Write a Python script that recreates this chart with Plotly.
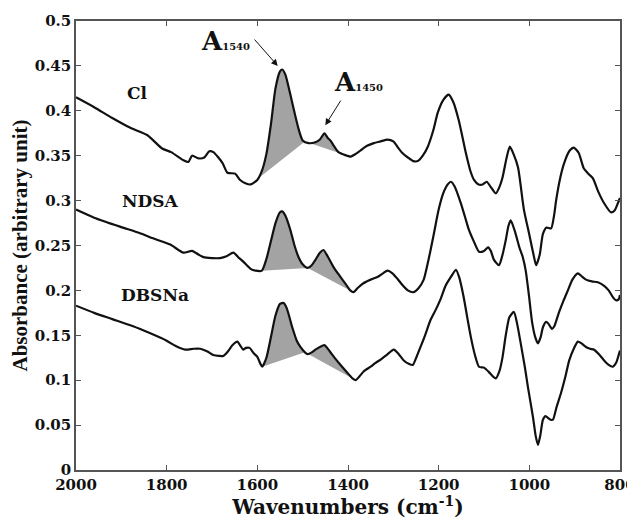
import numpy as np
import plotly.graph_objects as go

# ---------------- data ----------------
cl_x = [2000, 1960, 1920, 1880, 1843, 1810, 1790, 1763, 1752, 1744, 1730, 1717, 1706, 1697, 1677,
        1666, 1649, 1638, 1625, 1615, 1600, 1590, 1580, 1570, 1560, 1550, 1545, 1538, 1528, 1518,
        1508, 1500, 1487, 1472, 1462, 1452, 1445, 1439, 1430, 1421, 1408, 1394, 1383, 1372, 1358,
        1343, 1328, 1313, 1300, 1291, 1280, 1268, 1256, 1246, 1235, 1224, 1212, 1202, 1190, 1178,
        1168, 1156, 1148, 1140, 1130, 1122, 1112, 1103, 1094, 1085, 1074, 1066, 1059, 1050, 1043,
        1035, 1025, 1012, 1000, 990, 985, 977, 970, 962, 952, 945, 941, 932, 923, 912, 902, 891,
        880, 870, 860, 848, 835, 820, 812, 804, 800]
cl_y = [0.415, 0.404, 0.392, 0.381, 0.373, 0.358, 0.354, 0.345, 0.343, 0.350, 0.347, 0.348, 0.355, 0.354, 0.342,
        0.331, 0.330, 0.323, 0.319, 0.318, 0.323, 0.333, 0.352, 0.385, 0.425, 0.444, 0.446, 0.440, 0.420, 0.398,
        0.378, 0.367, 0.364, 0.365, 0.368, 0.375, 0.370, 0.367, 0.360, 0.354, 0.351, 0.349, 0.352, 0.356, 0.361,
        0.364, 0.366, 0.368, 0.366, 0.360, 0.353, 0.348, 0.344, 0.344, 0.350, 0.360, 0.378, 0.398, 0.412, 0.418,
        0.410, 0.390, 0.372, 0.353, 0.333, 0.323, 0.318, 0.318, 0.321, 0.315, 0.308, 0.315, 0.326, 0.348, 0.360,
        0.352, 0.337, 0.290, 0.262, 0.238, 0.228, 0.240, 0.263, 0.270, 0.269, 0.285, 0.300, 0.325, 0.342, 0.355, 0.359, 0.353,
        0.336, 0.330, 0.325, 0.310, 0.297, 0.287, 0.289, 0.298, 0.303]

ndsa_x = [2000, 1960, 1903, 1860, 1830, 1792, 1763, 1744, 1730, 1719, 1700, 1682, 1668, 1653, 1640,
          1631, 1615, 1604, 1590, 1580, 1570, 1560, 1550, 1545, 1538, 1527, 1518, 1509, 1500, 1489,
          1480, 1472, 1462, 1454, 1445, 1432, 1418, 1405, 1395, 1388, 1378, 1366, 1350, 1335, 1323,
          1313, 1302, 1291, 1280, 1268, 1255, 1245, 1233, 1222, 1211, 1200, 1190, 1180, 1173, 1165,
          1151, 1142, 1133, 1122, 1111, 1100, 1091, 1085, 1078, 1067, 1060, 1052, 1046, 1041, 1032,
          1022, 1015, 1008, 1001, 994, 987, 981, 975, 970, 963, 958, 950, 945, 935, 925, 915, 905,
          893, 885, 875, 862, 849, 835, 825, 815, 809, 803, 800]
ndsa_y = [0.290, 0.281, 0.271, 0.264, 0.258, 0.251, 0.242, 0.244, 0.240, 0.237, 0.236, 0.236, 0.238, 0.242, 0.236,
          0.232, 0.224, 0.222, 0.222, 0.235, 0.255, 0.275, 0.287, 0.288, 0.283, 0.267, 0.250, 0.237, 0.229, 0.225,
          0.228, 0.234, 0.242, 0.245, 0.238, 0.226, 0.216, 0.207, 0.200, 0.198, 0.203, 0.208, 0.212, 0.215, 0.219,
          0.222, 0.219, 0.213, 0.206, 0.200, 0.198, 0.202, 0.212, 0.235, 0.262, 0.290, 0.308, 0.318, 0.321, 0.316,
          0.297, 0.282, 0.267, 0.254, 0.243, 0.244, 0.248, 0.244, 0.234, 0.228, 0.238, 0.256, 0.272, 0.278, 0.266,
          0.248, 0.238, 0.222, 0.195, 0.165, 0.148, 0.141, 0.148, 0.159, 0.165, 0.163, 0.157, 0.160, 0.175, 0.188, 0.200, 0.212,
          0.219, 0.216, 0.212, 0.210, 0.209, 0.205, 0.200, 0.192, 0.189, 0.190, 0.195]

dbs_x = [2000, 1960, 1920, 1874, 1840, 1800, 1780, 1759, 1740, 1726, 1710, 1697, 1685, 1675, 1665,
         1655, 1644, 1637, 1631, 1625, 1617, 1608, 1600, 1593, 1589, 1580, 1570, 1560, 1550, 1542,
         1535, 1523, 1513, 1505, 1495, 1489, 1480, 1472, 1462, 1452, 1440, 1428, 1415, 1401, 1390,
         1383, 1375, 1365, 1350, 1340, 1328, 1315, 1299, 1288, 1277, 1265, 1257, 1248, 1240, 1230,
         1218, 1205, 1196, 1185, 1173, 1162, 1155, 1145, 1137, 1129, 1120, 1111, 1100, 1089, 1080,
         1074, 1066, 1059, 1052, 1044, 1034, 1027, 1019, 1010, 1003, 992, 986, 981, 976, 970, 964,
         959, 953, 948, 940, 930, 920, 912, 902, 893, 885, 875, 866, 857, 845, 835, 825, 816, 808, 803, 800]
dbs_y = [0.183, 0.175, 0.168, 0.160, 0.153, 0.144, 0.138, 0.134, 0.135, 0.135, 0.132, 0.128, 0.127, 0.127, 0.132,
         0.139, 0.143, 0.138, 0.134, 0.136, 0.136, 0.130, 0.126, 0.118, 0.115, 0.125, 0.148, 0.172, 0.185, 0.186,
         0.180, 0.159, 0.144, 0.137, 0.131, 0.129, 0.131, 0.134, 0.137, 0.139, 0.132, 0.124, 0.116, 0.108, 0.102,
         0.100, 0.104, 0.110, 0.115, 0.119, 0.123, 0.128, 0.134, 0.129, 0.122, 0.118, 0.117, 0.127, 0.137, 0.150,
         0.167, 0.180, 0.190, 0.205, 0.215, 0.223, 0.215, 0.193, 0.170, 0.148, 0.128, 0.115, 0.114, 0.109, 0.104,
         0.102, 0.110, 0.126, 0.150, 0.170, 0.176, 0.163, 0.141, 0.115, 0.092, 0.059, 0.038, 0.028, 0.038, 0.056, 0.060,
         0.058, 0.056, 0.056, 0.070, 0.086, 0.105, 0.122, 0.135, 0.143, 0.141, 0.137, 0.135, 0.134, 0.128, 0.122, 0.117, 0.115, 0.120, 0.128, 0.133]

series_names = ["Cl", "NDSA", "DBSNa"]
series_x = [cl_x, ndsa_x, dbs_x]
series_y = [cl_y, ndsa_y, dbs_y]

# integration ranges (wavenumber limits) for A1540 and A1450 bands
band1540 = [(1615, 1495), (1590, 1489), (1589, 1495)]
band1450 = [(1495, 1408), (1489, 1390), (1495, 1383)]

x_ticks = [2000, 1800, 1600, 1400, 1200, 1000, 800]
y_ticks = [0, 0.05, 0.1, 0.15, 0.2, 0.25, 0.3, 0.35, 0.4, 0.45, 0.5]

# ---------------- figure ----------------
fig = go.Figure()
FILL = "#a3a3a3"


def band_polygon(xs, ys, hi, lo):
    xa = np.array(xs, float)
    ya = np.array(ys, float)
    order = np.argsort(xa)
    y_hi = float(np.interp(hi, xa[order], ya[order]))
    y_lo = float(np.interp(lo, xa[order], ya[order]))
    mask = (xa < hi) & (xa > lo)
    px = [hi] + list(xa[mask]) + [lo, hi]
    py = [y_hi] + list(ya[mask]) + [y_lo, y_hi]
    return px, py


for xs, ys, b1, b2 in zip(series_x, series_y, band1540, band1450):
    for hi, lo in (b1, b2):
        px, py = band_polygon(xs, ys, hi, lo)
        fig.add_trace(go.Scatter(x=px, y=py, mode="lines", fill="toself",
                                 fillcolor=FILL, line=dict(width=0, color=FILL),
                                 hoverinfo="skip", showlegend=False))

for name, xs, ys in zip(series_names, series_x, series_y):
    fig.add_trace(go.Scatter(x=xs, y=ys, mode="lines", name=name,
                             line=dict(color="#111111", width=2.2, shape="spline", smoothing=0.6),
                             showlegend=False))

SERIF = "DejaVu Serif"
label_pos = [(1865, 0.420), (1836, 0.2995), (1825, 0.195)]
for name, (lx, ly) in zip(series_names, label_pos):
    fig.add_annotation(x=lx, y=ly, text="<b>%s</b>" % name, showarrow=False,
                       font=dict(family=SERIF, size=17, color="#111111"))

# band labels
fig.add_annotation(x=1670, y=0.478, text="<b>A<span style='font-size:10px'>1540</span></b>",
                   showarrow=False, font=dict(family=SERIF, size=26, color="#111111"))
fig.add_annotation(x=1377, y=0.432, text="<b>A<span style='font-size:10px'>1450</span></b>",
                   showarrow=False, font=dict(family=SERIF, size=26, color="#111111"))
# arrows
fig.add_annotation(x=1555, y=0.450, ax=1609, ay=0.481, axref="x", ayref="y", xref="x", yref="y",
                   text="", showarrow=True, arrowhead=2, arrowsize=1.3, arrowwidth=1, arrowcolor="#111111")
fig.add_annotation(x=1450, y=0.384, ax=1414, ay=0.413, axref="x", ayref="y", xref="x", yref="y",
                   text="", showarrow=True, arrowhead=2, arrowsize=1.3, arrowwidth=1, arrowcolor="#111111")

axis_common = dict(showline=True, linecolor="#555555", linewidth=1.5, mirror="ticks",
                   ticks="inside", ticklen=5, tickcolor="#555555", tickwidth=1,
                   showgrid=False, zeroline=False, automargin=False,
                   tickfont=dict(family=SERIF, size=15, color="#111111"))

fig.update_xaxes(range=[2000, 800], tickvals=x_ticks, ticktext=["<b>%d</b>" % v for v in x_ticks],
                 title=dict(text="<b>Wavenumbers (cm<sup>-1</sup>)</b>", standoff=3,
                            font=dict(family=SERIF, size=20, color="#111111")),
                 **axis_common)
fig.update_yaxes(range=[0, 0.5], tickvals=y_ticks, ticktext=["<b>%g</b>" % v for v in y_ticks],
                 title=dict(text="<b>Absorbance (arbitrary unit)</b>", standoff=2,
                            font=dict(family="Liberation Serif", size=21, color="#111111")),
                 **axis_common)

# the page body adds an 8px offset; the figure is shifted so the plot frame sits where the reference has it
fig.update_layout(width=635, height=511, margin=dict(l=68, r=23, t=13, b=49),
                  paper_bgcolor="white", plot_bgcolor="white")

fig.write_html("out.html")
